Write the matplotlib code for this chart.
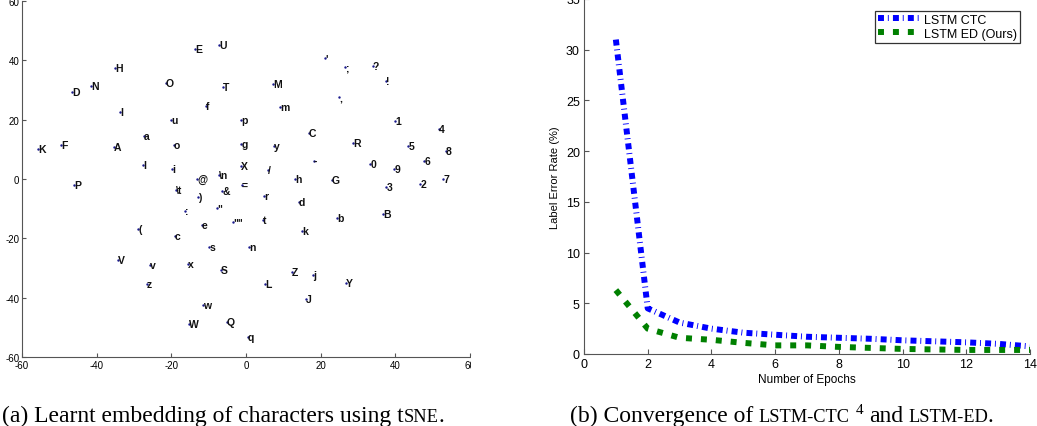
import matplotlib
matplotlib.use("Agg")
import matplotlib.pyplot as plt
from matplotlib.patches import Rectangle

plt.rcParams['font.family'] = ['Liberation Sans', 'DejaVu Sans']
plt.rcParams['axes.unicode_minus'] = False

# left panel: tSNE embedding of characters
chars = ["E", "U", "H", "D", "N", "O", "T", "I", "f", "u", "p", "a", "K", "F",
         "A", "o", "g", "l", "i", "@", "X", "\\n", "P", "\\t", "&", "=",
         "'", ";", "?", "!", ",", "M", "m", "1", "4", "C", "R", "y", "5", "8",
         "-", "0", "9", "6", "/", "h", "G", "3", "2", "7", "r", "d", "b", "B",
         "t", "k", "n", "Z", "j", "L", "Y", "J", ")", ":", '"', '""', "e", "(",
         "c", "s", "V", "v", "x", "S", "z", "w", "W", "Q", "q"]
emb_x = [-13.7, -7.2, -35.1, -46.6, -41.5, -21.4, -6.2, -33.8, -10.7, -20.1, -1.3, -27.3, -55.7, -49.6,
         -35.4, -19.3, -1.3, -27.6, -19.8, -13.1, -1.3, -7.2, -46.1, -18.8, -6.4, -1.1,
         21.2, 26.5, 34.0, 37.5, 24.9, 7.2, 9.1, 39.9, 51.7, 16.9, 28.7, 7.5, 43.5, 53.5,
         18.2, 33.3, 39.7, 47.8, 5.9, 13.1, 23.0, 37.6, 46.7, 52.8, 4.8, 14.2, 24.4, 36.7,
         4.6, 15.0, 0.8, 12.3, 18.0, 5.1, 26.8, 16.1, -12.8, -16.3, -7.8, -3.5, -11.8, -28.9,
         -19.0, -9.8, -34.3, -25.7, -15.5, -6.7, -26.5, -11.5, -15.3, -5.1, 0.5]
emb_y = [43.8, 45.1, 37.4, 29.3, 31.3, 32.3, 31.0, 22.6, 24.6, 19.9, 19.9, 14.5, 10.1, 11.4,
         10.8, 11.4, 11.8, 4.7, 3.4, 0.0, 4.4, 1.3, -2.0, -3.7, -4.0, -2.0,
         40.7, 37.7, 38.0, 33.0, 27.6, 32.0, 24.2, 19.5, 16.8, 15.5, 12.1, 11.1, 11.1, 9.4,
         6.1, 5.1, 3.4, 6.1, 3.0, 0.0, -0.3, -2.7, -1.7, 0.0, -5.7, -7.7, -13.1, -11.8,
         -13.8, -17.5, -22.9, -31.3, -32.3, -35.4, -35.0, -40.4, -6.1, -10.8, -9.8, -14.5, -15.5, -16.8,
         -19.2, -22.9, -27.3, -29.0, -28.6, -30.6, -35.4, -42.4, -48.8, -48.1, -53.2]

# right panel: convergence
epochs = [1, 2, 3, 4, 5, 6, 7, 8, 9, 10, 11, 12, 13, 14]
ctc_err = [31.0, 4.5, 3.1, 2.5, 2.1, 1.9, 1.7, 1.6, 1.5, 1.35, 1.25, 1.15, 1.0, 0.75]
ed_err = [6.3, 2.5, 1.6, 1.4, 1.1, 0.85, 0.85, 0.7, 0.6, 0.5, 0.45, 0.4, 0.4, 0.4]

W, H = 1037, 427
fig = plt.figure(figsize=(W / 100, H / 100), dpi=100)

spine_col = '#555555'

# --- left
ax1 = fig.add_axes([22 / W, 69 / H, 448 / W, 356 / H])
ax1.scatter(emb_x, emb_y, s=3, color='#1a1a8c', zorder=3, linewidths=0)
for cx, cy, c in zip(emb_x, emb_y, chars):
    ax1.text(cx, cy, c, ha='left', va='center', fontsize=7.5, fontweight='bold', color='#111111')
ax1.set_xlim(-60, 60)
ax1.set_ylim(-60, 60)
ax1.set_xticks(range(-60, 61, 20))
ax1.set_yticks(range(-60, 61, 20))
ax1.tick_params(direction='in', length=3, labelsize=7, color=spine_col, pad=2)
for side in ['top', 'right']:
    ax1.spines[side].set_visible(False)
for side in ['left', 'bottom']:
    ax1.spines[side].set_color(spine_col)

# crop of the original panel hides the end of the last x label
fig.add_artist(Rectangle((471 / W, 0.08), 100 / W, 0.085, transform=fig.transFigure,
                         facecolor='white', edgecolor='none', zorder=10))

# --- right
ax2 = fig.add_axes([584 / W, 72 / H, 446 / W, 355 / H])
ax2.plot(epochs, ctc_err, color='#0000ff', lw=4.3, dashes=(1, 0.65, 0.15, 0.7),
         solid_capstyle='butt', dash_capstyle='butt', label='LSTM CTC')
ax2.plot(epochs, ed_err, color='#008000', lw=4.3, dashes=(1, 1.5),
         dash_capstyle='butt', label='LSTM ED (Ours)')
ax2.set_xlim(0, 14)
ax2.set_ylim(0, 35)
ax2.set_xticks(range(0, 15, 2))
ax2.set_yticks(range(0, 36, 5))
ax2.tick_params(direction='in', length=3.5, labelsize=9, color=spine_col, pad=3)
for side in ['top', 'right']:
    ax2.spines[side].set_visible(False)
for side in ['left', 'bottom']:
    ax2.spines[side].set_color(spine_col)
ax2.set_xlabel("Number of Epochs", fontsize=8.5, labelpad=2)
ax2.set_ylabel("Label Error Rate (%)", fontsize=8, labelpad=4)
leg = ax2.legend(loc='upper right', fontsize=9, fancybox=False, handlelength=3.4,
                 borderpad=0.25, labelspacing=0.15, handletextpad=0.3,
                 borderaxespad=0.5, bbox_to_anchor=(0.992, 0.985))
leg.get_frame().set_edgecolor('black')
leg.get_frame().set_linewidth(0.9)


# --- captions with small caps drawn piece by piece
def caption(x_px, pieces):
    r = fig.canvas.get_renderer()
    x = x_px / W
    for s, size, rise, gap in pieces:
        t = fig.text(x, (5 + rise) / H, s, fontsize=size, family='Liberation Serif',
                     va='baseline', ha='left')
        bb = t.get_window_extent(r)
        x = (bb.x1 + gap) / W


big, small = 17, 13.2
caption(2, [("(a) Learnt embedding of characters using t", big, 0, 0),
            ("SNE", small, 0, 0), (".", big, 0, 0)])
caption(570, [("(b) Convergence of", big, 0, 5),
              ("LSTM-CTC", small, 0, 6),
              ("4", 11, 8, 6),
              ("and", big, 0, 5),
              ("LSTM-ED", small, 0, 0),
              (".", big, 0, 0)])

fig.savefig("out.png", dpi=100)
